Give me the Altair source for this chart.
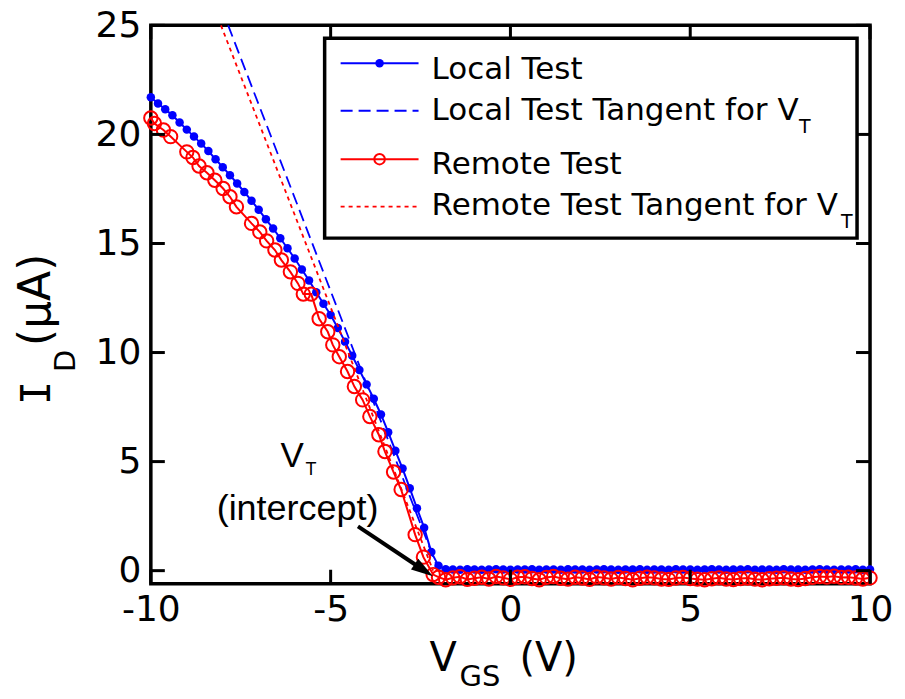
import altair as alt
import pandas as pd

# ---------------- data ----------------
local_x = [-10.0, -9.8, -9.6, -9.4, -9.2, -9.0, -8.8, -8.6, -8.4, -8.2,
           -8.0, -7.8, -7.6, -7.4, -7.2, -7.0, -6.8, -6.6, -6.4, -6.2,
           -6.0, -5.8, -5.6, -5.4, -5.2, -5.0, -4.8, -4.6, -4.4, -4.2,
           -4.0, -3.8, -3.6, -3.4, -3.2, -3.0, -2.8, -2.6, -2.4, -2.2,
           -2.0, -1.8, -1.6, -1.4, -1.2, -1.0, -0.8, -0.6, -0.4, -0.2,
           0.0, 0.2, 0.4, 0.6, 0.8, 1.0, 1.2, 1.4, 1.6, 1.8,
           2.0, 2.2, 2.4, 2.6, 2.8, 3.0, 3.2, 3.4, 3.6, 3.8,
           4.0, 4.2, 4.4, 4.6, 4.8, 5.0, 5.2, 5.4, 5.6, 5.8,
           6.0, 6.2, 6.4, 6.6, 6.8, 7.0, 7.2, 7.4, 7.6, 7.8,
           8.0, 8.2, 8.4, 8.6, 8.8, 9.0, 9.2, 9.4, 9.6, 9.8, 10.0]
local_y = [21.70, 21.42, 21.15, 20.88, 20.55, 20.22, 19.90, 19.58, 19.24, 18.86,
           18.50, 18.13, 17.75, 17.36, 16.96, 16.55, 16.11, 15.69, 15.24, 14.78,
           14.31, 13.81, 13.30, 12.76, 12.24, 11.72, 11.12, 10.50, 9.85, 9.20,
           8.54, 7.88, 7.16, 6.35, 5.50, 4.68, 3.78, 2.86, 1.97, 0.85,
           0.22, 0.06, 0.05, 0.04, 0.06, 0.05, 0.04, 0.05, 0.06, 0.05,
           0.04, 0.05, 0.05, 0.06, 0.04, 0.05, 0.05, 0.04, 0.06, 0.05,
           0.05, 0.04, 0.05, 0.06, 0.05, 0.04, 0.05, 0.05, 0.06, 0.04,
           0.05, 0.05, 0.04, 0.06, 0.05, 0.05, 0.04, 0.05, 0.06, 0.05,
           0.04, 0.05, 0.05, 0.06, 0.04, 0.05, 0.05, 0.04, 0.06, 0.05,
           0.05, 0.04, 0.05, 0.06, 0.05, 0.04, 0.05, 0.05, 0.06, 0.04, 0.05]

remote_x = [-10.0, -9.9, -9.65, -9.45, -9.0, -8.83, -8.66, -8.44, -8.22, -7.99,
            -7.8, -7.62, -7.2, -6.97, -6.78, -6.55, -6.37, -6.12, -5.91, -5.76,
            -5.54, -5.32, -5.08, -4.94, -4.76, -4.53, -4.34, -4.11, -3.91, -3.66,
            -3.49, -3.25, -3.04, -2.65, -2.42, -2.15,
            -2.0, -1.8, -1.6, -1.4, -1.2, -1.0, -0.8, -0.6, -0.4, -0.2,
            0.0, 0.2, 0.4, 0.6, 0.8, 1.0, 1.2, 1.4, 1.6, 1.8,
            2.0, 2.2, 2.4, 2.6, 2.8, 3.0, 3.2, 3.4, 3.6, 3.8,
            4.0, 4.2, 4.4, 4.6, 4.8, 5.0, 5.2, 5.4, 5.6, 5.8,
            6.0, 6.2, 6.4, 6.6, 6.8, 7.0, 7.2, 7.4, 7.6, 7.8,
            8.0, 8.2, 8.4, 8.6, 8.8, 9.0, 9.2, 9.4, 9.6, 9.8, 10.0]
remote_y = [20.75, 20.50, 20.20, 19.90, 19.20, 18.94, 18.55, 18.24, 17.90, 17.52,
            17.14, 16.68, 15.92, 15.53, 15.12, 14.70, 14.24, 13.70, 13.17, 12.68,
            12.68, 11.55, 10.95, 10.35, 9.81, 9.13, 8.44, 7.83, 7.07, 6.23,
            5.46, 4.52, 3.72, 1.65, 0.62, -0.18,
            -0.30, -0.42, -0.33, -0.28, -0.40, -0.35, -0.30, -0.38, -0.27, -0.33,
            -0.40, -0.30, -0.28, -0.36, -0.42, -0.31, -0.27, -0.35, -0.39, -0.30,
            -0.34, -0.40, -0.29, -0.33, -0.38, -0.31, -0.36, -0.42, -0.35, -0.30,
            -0.33, -0.38, -0.40, -0.34, -0.31, -0.36, -0.39, -0.42, -0.37, -0.33,
            -0.38, -0.41, -0.36, -0.34, -0.39, -0.42, -0.37, -0.35, -0.33, -0.38,
            -0.41, -0.36, -0.30, -0.27, -0.29, -0.26, -0.31, -0.30, -0.34, -0.38, -0.33]

local_tan_x = [-7.85, -2.0]
local_tan_y = [25.0, 0.0]
remote_tan_x = [-8.05, -2.15]
remote_tan_y = [25.0, 0.0]

x_ticks = [-10, -5, 0, 5, 10]
y_ticks = [0, 5, 10, 15, 20, 25]

arrow_line_x = [-4.24, -2.41]
arrow_line_y = [2.03, 0.02]
arrow_head_x = [-2.41]
arrow_head_y = [0.02]

legend_labels = ["Local Test", "Local Test Tangent for V", "Remote Test",
                 "Remote Test Tangent for V"]

# ---------------- layout ----------------
W, H = 720, 559
BLUE, RED = "#0000ff", "#ff0000"
FONT = "DejaVu Sans"

xs = alt.Scale(domain=[-10, 10], nice=False, zero=False)
ys = alt.Scale(domain=[-0.6, 25], nice=False, zero=False)
x_axis = alt.Axis(values=x_ticks, domain=False, ticks=False, grid=False,
                  labelFontSize=36, labelFont=FONT, labelColor="black",
                  labelPadding=9, title=None, labelFlush=False,
                  labelExpr="'' + datum.value")
y_axis = alt.Axis(values=y_ticks, domain=False, ticks=False, grid=False,
                  labelFontSize=36, labelFont=FONT, labelColor="black",
                  labelPadding=10, title=None, labelFlush=False,
                  labelExpr="'' + datum.value")
X = alt.X("x:Q", scale=xs, axis=x_axis)
Y = alt.Y("y:Q", scale=ys, axis=y_axis)

df_local = pd.DataFrame({"x": local_x, "y": local_y})
df_remote = pd.DataFrame({"x": remote_x, "y": remote_y})
df_ltan = pd.DataFrame({"x": local_tan_x, "y": local_tan_y})
df_rtan = pd.DataFrame({"x": remote_tan_x, "y": remote_tan_y})
dummy = pd.DataFrame({"a": [0]})

layers = []
# axes frame
layers.append(alt.Chart(dummy).mark_rect(fillOpacity=0, stroke="black", strokeWidth=3.5).encode(
    x=alt.value(0), x2=alt.value(W), y=alt.value(0), y2=alt.value(H)))

layers.append(alt.Chart(df_local).mark_line(color=BLUE, strokeWidth=2).encode(x=X, y=Y))
layers.append(alt.Chart(df_local).mark_circle(color=BLUE, size=72, opacity=1).encode(x=X, y=Y))
layers.append(alt.Chart(df_ltan).mark_line(color=BLUE, strokeWidth=1.8, strokeDash=[12, 6]).encode(x=X, y=Y))
layers.append(alt.Chart(df_remote).mark_line(color=RED, strokeWidth=2).encode(x=X, y=Y))
layers.append(alt.Chart(df_remote).mark_point(color=RED, size=180, filled=False, strokeWidth=2, opacity=1).encode(x=X, y=Y))
layers.append(alt.Chart(df_rtan).mark_line(color=RED, strokeWidth=1.8, strokeDash=[4, 4]).encode(x=X, y=Y))

# inward ticks on all four sides
df_xt = pd.DataFrame({"x": x_ticks})
df_yt = pd.DataFrame({"y": y_ticks})
TL = 14
layers.append(alt.Chart(df_xt).mark_rule(color="black", strokeWidth=3).encode(
    x=X, y=alt.value(H), y2=alt.value(H - TL)))
layers.append(alt.Chart(df_xt).mark_rule(color="black", strokeWidth=3).encode(
    x=X, y=alt.value(0), y2=alt.value(TL)))
layers.append(alt.Chart(df_yt).mark_rule(color="black", strokeWidth=3).encode(
    y=Y, x=alt.value(0), x2=alt.value(TL)))
layers.append(alt.Chart(df_yt).mark_rule(color="black", strokeWidth=3).encode(
    y=Y, x=alt.value(W), x2=alt.value(W - TL)))

# annotation arrow + text
df_arrow = pd.DataFrame({"x": arrow_line_x, "y": arrow_line_y})
df_head = pd.DataFrame({"x": arrow_head_x, "y": arrow_head_y})
layers.append(alt.Chart(df_arrow).mark_line(color="black", strokeWidth=4).encode(x=X, y=Y))
layers.append(alt.Chart(df_head).mark_point(
    shape="M1,0L-1,-0.6L-1,0.6Z", filled=True, color="black", size=484,
    angle=33.7, opacity=1, strokeWidth=0).encode(x=X, y=Y))

ANN = "Liberation Sans"
layers.append(alt.Chart(pd.DataFrame({"x": [-6.07], "y": [4.76], "t": ["V"]})).mark_text(
    font=ANN, fontSize=35, align="center", baseline="alphabetic", color="black").encode(
    x=X, y=Y, text="t:N"))
layers.append(alt.Chart(pd.DataFrame({"x": [-5.70], "y": [4.40], "t": ["T"]})).mark_text(
    font=ANN, fontSize=18, align="left", baseline="alphabetic", color="black").encode(
    x=X, y=Y, text="t:N"))
layers.append(alt.Chart(pd.DataFrame({"x": [-5.92], "y": [2.33], "t": ["(intercept)"]})).mark_text(
    font=ANN, fontSize=36, align="center", baseline="alphabetic", color="black").encode(
    x=X, y=Y, text="t:N"))

# legend box
layers.append(alt.Chart(dummy).mark_rect(fill="white", stroke="black", strokeWidth=3.5).encode(
    x=alt.value(174), x2=alt.value(707), y=alt.value(13), y2=alt.value(213)))
rows_line = [38, 85.5, 134, 181.5]
rows_text = [53.5, 94.5, 148.5, 190]
LX1, LX2, LXM, TX = 190, 268, 229, 281
layers.append(alt.Chart(dummy).mark_rule(color=BLUE, strokeWidth=2).encode(
    x=alt.value(LX1), x2=alt.value(LX2), y=alt.value(rows_line[0])))
layers.append(alt.Chart(dummy).mark_circle(color=BLUE, size=72, opacity=1).encode(
    x=alt.value(LXM), y=alt.value(rows_line[0])))
layers.append(alt.Chart(dummy).mark_rule(color=BLUE, strokeWidth=1.8, strokeDash=[12, 6]).encode(
    x=alt.value(LX1), x2=alt.value(LX2), y=alt.value(rows_line[1])))
layers.append(alt.Chart(dummy).mark_rule(color=RED, strokeWidth=2).encode(
    x=alt.value(LX1), x2=alt.value(LX2), y=alt.value(rows_line[2])))
layers.append(alt.Chart(dummy).mark_point(color=RED, size=110, filled=False, strokeWidth=2, opacity=1).encode(
    x=alt.value(LXM), y=alt.value(rows_line[2])))
layers.append(alt.Chart(dummy).mark_rule(color=RED, strokeWidth=1.8, strokeDash=[4, 4]).encode(
    x=alt.value(LX1), x2=alt.value(LX2), y=alt.value(rows_line[3])))
for i, lab in enumerate(legend_labels):
    layers.append(alt.Chart(pd.DataFrame({"t": [lab]})).mark_text(
        font=FONT, fontSize=31, align="left", baseline="alphabetic", color="black").encode(
        x=alt.value(TX), y=alt.value(rows_text[i]), text="t:N"))
layers.append(alt.Chart(pd.DataFrame({"t": ["T"]})).mark_text(
    font=FONT, fontSize=19, align="left", baseline="alphabetic", color="black").encode(
    x=alt.value(649), y=alt.value(108), text="t:N"))
layers.append(alt.Chart(pd.DataFrame({"t": ["T"]})).mark_text(
    font=FONT, fontSize=19, align="left", baseline="alphabetic", color="black").encode(
    x=alt.value(691), y=alt.value(203), text="t:N"))

# axis titles
def txt(s, x, y, size, angle=0, font=FONT):
    return alt.Chart(pd.DataFrame({"t": [s]})).mark_text(
        font=font, fontSize=size, align="left", baseline="alphabetic", color="black",
        angle=angle).encode(x=alt.value(x), y=alt.value(y), text="t:N")

layers.append(txt("V", 279, 646, 40))
layers.append(txt("GS", 309, 661, 29))
layers.append(txt("(V)", 369, 646, 40))
layers.append(txt("I", -101, 380, 40, 270, "DejaVu Sans Mono"))
layers.append(txt("D", -76, 347, 29, 270))
layers.append(txt("(μA)", -101, 321, 44, 270))

chart = alt.layer(*layers).properties(
    width=W, height=H,
    autosize=alt.AutoSizeParams(type="none"),
    padding={"left": 143, "top": 17, "right": 27, "bottom": 107},
).configure_view(strokeWidth=0).configure(background="white")

chart.save("out.html", embed_options={"renderer": "svg", "actions": False})
